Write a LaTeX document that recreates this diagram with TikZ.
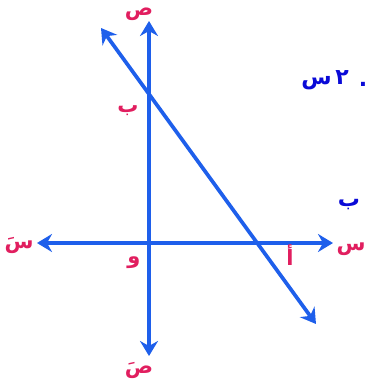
\documentclass[tikz,border=0pt]{standalone}
\usepackage{fontspec}
\newfontfamily\arabicfont[Script=Arabic]{DejaVu Sans}
\TeXXeTstate=1
\usetikzlibrary{arrows.meta}
\definecolor{axisblue}{RGB}{30,95,235}
\definecolor{labpink}{RGB}{225,30,95}
\definecolor{txtblue}{RGB}{10,10,215}
\begin{document}
\begin{tikzpicture}[x=1pt,y=-1pt,
  >={Stealth[length=15pt,width=18pt,inset=5pt]},
  axis/.style={draw=axisblue,line width=3.7pt,<->},
  lab/.style={text=labpink,font=\arabicfont\bfseries\fontsize{21}{21}\selectfont,inner sep=0pt,
    text height=13pt,text depth=4pt},
  btxt/.style={text=txtblue,font=\arabicfont\bfseries\fontsize{22}{22}\selectfont,inner sep=0pt,
    text height=13pt,text depth=4pt}]
\useasboundingbox (0,0) rectangle (366,382);
\fill[white] (0,0) rectangle (366,382);
% axis end points
\coordinate (xr) at (333,243);
\coordinate (xl) at (37,243);
\coordinate (yt) at (149,21);
\coordinate (yb) at (149,356);
\coordinate (lt) at (101,28);
\coordinate (lb) at (316,324);
\draw[axis] (xl) -- (xr);
\draw[axis] (yb) -- (yt);
\draw[axis] (lt) -- (lb);
% labels
\node[lab] (ytop) at (139,11) {\beginR ص\endR};
\node[lab] (bl) at (128,108) {\beginR ب\endR};
\node[lab] (xleft) at (19,244) {\beginR سَ\endR};
\node[lab] (o) at (134,259) {\beginR و\endR};
\node[lab] (a) at (290,261) {\beginR أ\endR};
\node[lab] (xright) at (351,246) {\beginR س\endR};
\node[lab] (ybot) at (139,369) {\beginR صَ\endR};
\node[btxt] (eq) at (325,80) {\beginR ٢\,س\endR};
\node[btxt] (dot) at (363,82) {.};
\node[btxt] (b2) at (349,202) {\beginR ب\endR};
\end{tikzpicture}
\end{document}
